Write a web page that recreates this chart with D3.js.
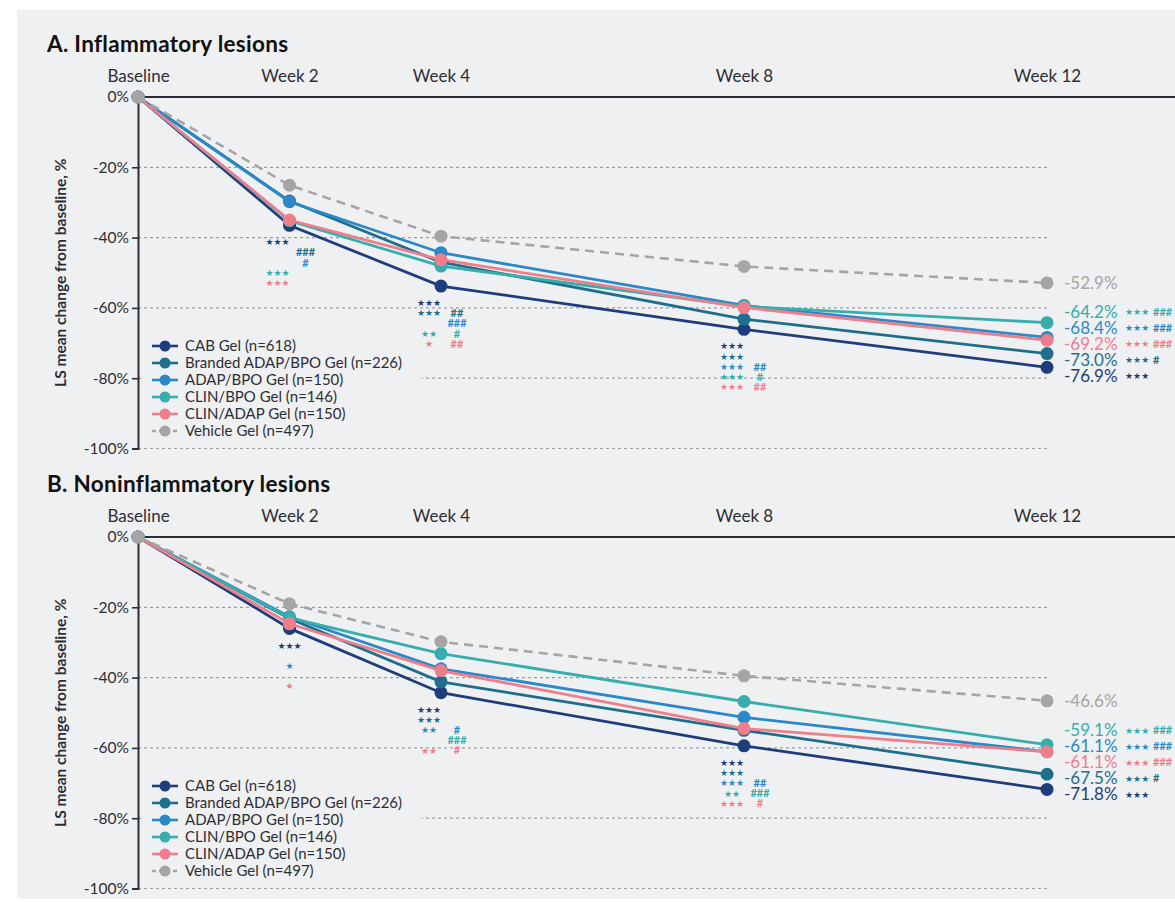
<!DOCTYPE html>
<html>
<head>
<meta charset="utf-8">
<script src="https://cdn.jsdelivr.net/npm/d3@7"></script>
<style>
  body { margin: 0; background: #fff; font-family: Lato, 'Open Sans', sans-serif; }
  svg { display: block; }
</style>
</head>
<body>
<div id="chart"></div>
<script>
/* ===== Data ===== */
const weeks = [0, 2, 4, 8, 12];
const weekLabels = ['Baseline', 'Week 2', 'Week 4', 'Week 8', 'Week 12'];
const yTicks = [0, -20, -40, -60, -80, -100];

const seriesNames = [
  'CAB Gel (n=618)',
  'Branded ADAP/BPO Gel (n=226)',
  'ADAP/BPO Gel (n=150)',
  'CLIN/BPO Gel (n=146)',
  'CLIN/ADAP Gel (n=150)',
  'Vehicle Gel (n=497)'
];
const seriesColors = ['#1e3d7b', '#1f6e8c', '#2b88c9', '#37adac', '#ee7e8b', '#a5a5a5'];

// A. Inflammatory lesions (LS mean % change)
const inflamCAB      = [0, -36.5, -53.8, -66.1, -76.9];
const inflamBranded  = [0, -29.6, -47.0, -63.2, -73.0];
const inflamADAP     = [0, -29.8, -44.3, -59.3, -68.4];
const inflamCLINBPO  = [0, -35.2, -48.1, -59.6, -64.2];
const inflamCLINADAP = [0, -35.0, -46.3, -59.9, -69.2];
const inflamVehicle  = [0, -25.1, -39.6, -48.2, -52.9];

// B. Noninflammatory lesions
const nonCAB      = [0, -26.0, -44.3, -59.4, -71.8];
const nonBranded  = [0, -23.2, -41.2, -55.0, -67.5];
const nonADAP     = [0, -22.7, -37.5, -51.3, -61.1];
const nonCLINBPO  = [0, -23.0, -33.2, -46.8, -59.1];
const nonCLINADAP = [0, -24.7, -38.0, -54.5, -61.1];
const nonVehicle  = [0, -19.0, -29.8, -39.5, -46.6];

// significance marks, rows = active series, cols = Week 2, 4, 8, 12
const inflamStars = [
  ['***', '***', '***', '***'],
  ['',    '***', '***', '***'],
  ['',    '',    '***', '***'],
  ['***', '**',  '***', '***'],
  ['***', '*',   '***', '***']
];
const inflamHashes = [
  ['',    '',    '',   ''],
  ['###', '##',  '',   '#'],
  ['#',   '###', '##', '###'],
  ['',    '#',   '#',  '###'],
  ['',    '##',  '##', '###']
];
const nonStars = [
  ['***', '***', '***', '***'],
  ['',    '***', '***', '***'],
  ['*',   '**',  '***', '***'],
  ['',    '',    '**',  '***'],
  ['*',   '**',  '***', '***']
];
const nonHashes = [
  ['', '',    '',    ''],
  ['', '',    '',    '#'],
  ['', '#',   '##',  '###'],
  ['', '###', '###', '###'],
  ['', '#',   '#',   '###']
];

const panels = [
  { title: 'A. Inflammatory lesions', top: 0,
    values: [inflamCAB, inflamBranded, inflamADAP, inflamCLINBPO, inflamCLINADAP, inflamVehicle],
    stars: inflamStars, hashes: inflamHashes },
  { title: 'B. Noninflammatory lesions', top: 440,
    values: [nonCAB, nonBranded, nonADAP, nonCLINBPO, nonCLINADAP, nonVehicle],
    stars: nonStars, hashes: nonHashes }
];

/* ===== Chart ===== */
const W = 1175, H = 902;
const textColor = '#2d2d35';
const svg = d3.select('#chart').append('svg').attr('width', W).attr('height', H);

svg.append('rect').attr('x', 17).attr('y', 10).attr('width', W - 17).attr('height', 889)
  .attr('fill', '#eff0f2');

const x = d3.scaleLinear().domain([0, 12]).range([138, 1047]);
const star = s => s.replace(/\*/g, '\u2605');

panels.forEach(p => drawPanel(p));

function drawPanel(p) {
  const g = svg.append('g').attr('transform', `translate(0,${p.top})`);
  const y = d3.scaleLinear().domain([0, -100]).range([97, 448.5]);

  g.append('text')
    .attr('x', 47).attr('y', 52)
    .style('font-size', '22.5px').style('font-weight', 700).style('fill', '#111')
    .style('letter-spacing', '0.3px')
    .text(p.title);

  // Grid lines
  g.selectAll('.grid')
    .data(yTicks.filter(d => d !== 0))
    .join('line')
    .attr('x1', x(0)).attr('x2', x(12))
    .attr('y1', d => y(d)).attr('y2', d => y(d))
    .attr('stroke', '#9d9d9d').attr('stroke-width', 1.2).attr('stroke-dasharray', '3,3');

  // Week headers
  const top = g.append('g')
    .attr('transform', `translate(0,${y(0) - 10})`)
    .call(d3.axisTop(x).tickValues(weeks).tickSize(0).tickPadding(5)
      .tickFormat((d, i) => weekLabels[i]));
  top.select('.domain').remove();
  top.selectAll('text').style('font-size', '17px').style('fill', textColor)
    .style('font-family', 'Lato, sans-serif');

  // Top rule
  g.append('line')
    .attr('x1', x(0)).attr('x2', W).attr('y1', y(0)).attr('y2', y(0))
    .attr('stroke', textColor).attr('stroke-width', 2);

  // Y axis
  const ax = g.append('g')
    .attr('transform', `translate(${x(0)},0)`)
    .call(d3.axisLeft(y).tickValues(yTicks).tickSize(6).tickPadding(3)
      .tickFormat(d => d + '%'));
  ax.select('.domain').attr('stroke', textColor).attr('stroke-width', 2);
  ax.selectAll('.tick line').attr('stroke', textColor).attr('stroke-width', 1.6);
  ax.selectAll('text').style('font-size', '15.5px').style('fill', textColor)
    .style('font-family', 'Lato, sans-serif');

  g.append('text')
    .attr('transform', `translate(66,${(y(0) + y(-100)) / 2}) rotate(-90)`)
    .attr('text-anchor', 'middle')
    .style('font-size', '15.5px').style('font-weight', 700).style('fill', textColor)
    .text('LS mean change from baseline, %');

  // Lines and points
  const line = d3.line().x((d, i) => x(weeks[i])).y(d => y(d));
  p.values.forEach((vals, s) => {
    const isVeh = s === 5;
    g.append('path')
      .attr('d', line(vals))
      .attr('fill', 'none')
      .attr('stroke', seriesColors[s])
      .attr('stroke-width', isVeh ? 2.6 : 2.8)
      .attr('stroke-dasharray', isVeh ? '9,6' : null);
    g.selectAll(null)
      .data(vals)
      .join('circle')
      .attr('cx', (d, i) => x(weeks[i]))
      .attr('cy', d => y(d))
      .attr('r', 6.5)
      .attr('fill', seriesColors[s]);
  });

  // Significance marks below points (Week 2, 4, 8)
  [1, 2, 3].forEach(wi => {
    const col = wi - 1;
    const active = p.values.slice(0, 5);
    const lowest = d3.max(active, v => y(v[wi]));
    const hasHash = p.hashes.some(r => r[col]);
    const cx = x(weeks[wi]);
    active.forEach((v, s) => {
      const ry = lowest + 17 + s * 10.2;
      if (p.stars[s][col]) {
        g.append('text')
          .attr('x', hasHash ? cx - 12 : cx).attr('y', ry).attr('dy', '0.35em')
          .attr('text-anchor', 'middle')
          .style('font-family', 'DejaVu Sans, sans-serif').style('font-size', '9px')
          .style('fill', seriesColors[s])
          .text(star(p.stars[s][col]));
      }
      if (p.hashes[s][col]) {
        g.append('text')
          .attr('x', cx + 16).attr('y', ry).attr('dy', '0.35em')
          .attr('text-anchor', 'middle')
          .style('font-size', '11px').style('font-weight', 700)
          .style('fill', seriesColors[s])
          .text(p.hashes[s][col]);
      }
    });
  });

  // End labels with collision avoidance
  const labels = p.values.map((v, s) => ({ s, val: v[4], ly: y(v[4]) }))
    .sort((a, b) => a.ly - b.ly);
  const gap = 16;
  for (let k = 0; k < 60; k++) {
    for (let i = 1; i < labels.length; i++) {
      const d = labels[i].ly - labels[i - 1].ly;
      if (d < gap) {
        const shift = (gap - d) / 2;
        labels[i - 1].ly -= shift;
        labels[i].ly += shift;
      }
    }
  }
  labels.forEach(l => {
    g.append('text')
      .attr('x', x(12) + 17).attr('y', l.ly).attr('dy', '0.35em')
      .style('font-size', '17px').style('fill', seriesColors[l.s])
      .text(l.val.toFixed(1) + '%');
    if (l.s < 5) {
      g.append('text')
        .attr('x', x(12) + 78).attr('y', l.ly).attr('dy', '0.35em')
        .style('font-family', 'DejaVu Sans, sans-serif').style('font-size', '9px')
        .style('fill', seriesColors[l.s])
        .text(star(p.stars[l.s][3]));
      g.append('text')
        .attr('x', x(12) + 106).attr('y', l.ly).attr('dy', '0.35em')
        .style('font-size', '11px').style('font-weight', 700)
        .style('fill', seriesColors[l.s])
        .text(p.hashes[l.s][3]);
    }
  });

  // Legend
  const lg = g.append('g').attr('transform', `translate(0,${y(0) + 249})`);
  lg.append('rect')
    .attr('x', 141).attr('y', -11).attr('width', 281).attr('height', 104)
    .attr('fill', '#eff0f2');
  seriesNames.forEach((name, s) => {
    const row = lg.append('g').attr('transform', `translate(0,${s * 17})`);
    row.append('line')
      .attr('x1', 152).attr('x2', 178)
      .attr('stroke', seriesColors[s]).attr('stroke-width', 2.6)
      .attr('stroke-dasharray', s === 5 ? '4,3' : null);
    row.append('circle').attr('cx', 165).attr('r', 5.5).attr('fill', seriesColors[s]);
    row.append('text')
      .attr('x', 185).attr('dy', '0.35em')
      .style('font-size', '15px').style('fill', textColor)
      .text(name);
  });
}
</script>
</body>
</html>
